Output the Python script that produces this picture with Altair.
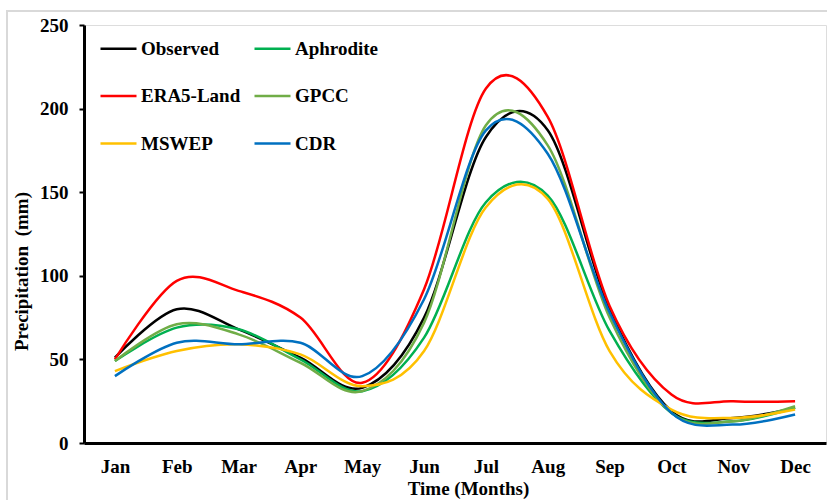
import altair as alt
import pandas as pd

months = ["Jan", "Feb", "Mar", "Apr", "May", "Jun", "Jul", "Aug", "Sep", "Oct", "Nov", "Dec"]

observed   = [51, 80, 68, 51, 33, 75, 183, 187, 80, 19, 15, 21]
aphrodite  = [49, 69, 68, 50, 31, 63, 144, 148, 67, 18, 13, 21]
era5_land  = [50, 97, 91, 75, 36, 92, 212, 195, 82, 29, 25, 25]
gpcc       = [49, 71, 65, 48, 31, 72, 190, 178, 75, 18, 13, 22]
mswep      = [43, 55, 59, 53, 34, 55, 141, 146, 55, 20, 15, 20]
cdr        = [40, 60, 59, 60, 40, 86, 187, 173, 78, 18, 11, 17]

series_names = ["Observed", "Aphrodite", "ERA5-Land", "GPCC", "MSWEP", "CDR"]
series_values = [observed, aphrodite, era5_land, gpcc, mswep, cdr]
series_colors = ["#000000", "#00B050", "#FF0000", "#70AD47", "#FFC000", "#0070C0"]

# legend reads row by row in two columns: Observed | Aphrodite, ERA5-Land | GPCC, MSWEP | CDR
legend_order = ["Observed", "ERA5-Land", "MSWEP", "Aphrodite", "GPCC", "CDR"]
legend_colors = [series_colors[series_names.index(n)] for n in legend_order]

rows = []
for name, vals in zip(series_names, series_values):
    for m, v in zip(months, vals):
        rows.append({"Month": m, "Series": name, "Value": v})
df = pd.DataFrame(rows)

FONT = "Liberation Serif"

lines = alt.Chart(df).mark_line(
    interpolate="cardinal", tension=0, strokeWidth=2.5
).encode(
    x=alt.X("Month:O", sort=months, scale=alt.Scale(padding=0.5),
            axis=alt.Axis(title="Time (Months)", labelAngle=0, ticks=False, tickSize=0,
                          labelPadding=14, domainColor="black", domainWidth=3,
                          labelFont=FONT, labelFontSize=19, labelFontWeight="bold",
                          labelColor="black",
                          titleFont=FONT, titleFontSize=19, titleFontWeight="bold",
                          titleColor="black", titleX=384, titleY=51,
                          titleBaseline="alphabetic", titleAlign="center")),
    y=alt.Y("Value:Q", scale=alt.Scale(domain=[0, 250], nice=False),
            axis=alt.Axis(title="Precipitation\u00a0 (mm)", values=[0, 50, 100, 150, 200, 250],
                          grid=False, tickSize=5, tickWidth=2, tickColor="black",
                          labelPadding=11, domainColor="black", domainWidth=3,
                          labelFont=FONT, labelFontSize=19, labelFontWeight="bold",
                          labelColor="black",
                          titleFont=FONT, titleFontSize=19, titleFontWeight="bold",
                          titleColor="black", titleX=-53, titleY=246, titleAngle=-90,
                          titleBaseline="bottom", titleAlign="center")),
    color=alt.Color("Series:N",
                    scale=alt.Scale(domain=legend_order, range=legend_colors),
                    legend=alt.Legend(title=None, orient="none", legendX=15, legendY=4,
                                      columns=2, symbolType="stroke", symbolSize=1296,
                                      symbolStrokeWidth=2.5, labelOffset=3,
                                      rowPadding=17.5, columnPadding=8, padding=0,
                                      labelFont=FONT, labelFontSize=19,
                                      labelFontWeight="bold", labelColor="black")),
)

frame = alt.Chart(df).mark_rect(fill=None, stroke="#d9d9d9", strokeWidth=1.5).encode(
    x=alt.value(-77), x2=alt.value(820), y=alt.value(-14), y2=alt.value(490)
)

chart = alt.layer(frame, lines).properties(
    width=742, height=418,
    autosize=alt.AutoSizeParams(type="none"),
    padding={"left": 84, "top": 25, "right": 1, "bottom": 57},
).configure_view(stroke=None).configure(background="white")

chart.save("out.html", embed_options={"renderer": "svg", "actions": False})
